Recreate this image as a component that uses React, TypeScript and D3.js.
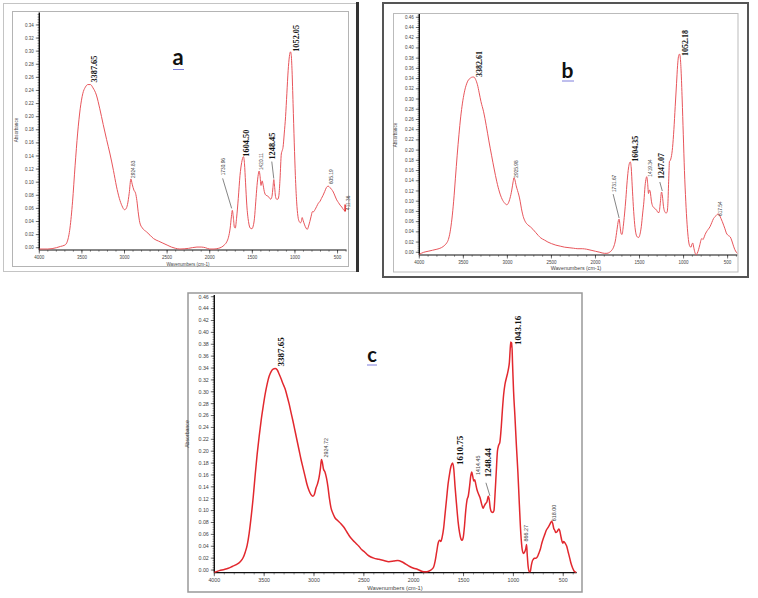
// @ts-nocheck
import React from 'react'
import * as d3 from 'd3'

// ---- spectrum a ----
const wavenumbersA = [4000, 3900, 3800, 3750, 3700, 3670, 3640, 3610, 3580, 3550, 3520, 3490, 3460, 3430, 3400, 3370, 3330, 3290, 3250, 3210, 3170, 3130, 3095, 3060, 3030, 3000, 2985, 2965, 2945, 2925, 2910, 2890, 2870, 2855, 2840, 2820, 2790, 2740, 2700, 2660, 2600, 2550, 2500, 2450, 2400, 2350, 2250, 2150, 2100, 2050, 2000, 1950, 1900, 1860, 1830, 1800, 1780, 1760, 1745, 1735, 1722, 1710, 1700, 1685, 1665, 1645, 1625, 1604, 1592, 1580, 1565, 1545, 1525, 1505, 1490, 1475, 1460, 1445, 1430, 1420, 1410, 1398, 1385, 1375, 1360, 1340, 1320, 1300, 1285, 1270, 1258, 1248, 1238, 1228, 1215, 1200, 1188, 1175, 1160, 1150, 1140, 1125, 1110, 1095, 1080, 1065, 1052, 1044, 1034, 1022, 1008, 995, 980, 965, 950, 935, 925, 915, 905, 890, 870, 855, 840, 825, 810, 795, 780, 765, 745, 725, 705, 690, 670, 650, 630, 610, 590, 570, 550, 530, 510, 490, 470, 450, 430, 411, 400]
const absorbanceA = [-0.002, -0.002, 0.0, 0.002, 0.004, 0.01, 0.03, 0.07, 0.125, 0.175, 0.212, 0.235, 0.245, 0.249, 0.249, 0.244, 0.233, 0.212, 0.188, 0.165, 0.143, 0.118, 0.094, 0.075, 0.064, 0.058, 0.059, 0.066, 0.083, 0.105, 0.097, 0.088, 0.083, 0.072, 0.055, 0.038, 0.03, 0.024, 0.019, 0.014, 0.01, 0.007, 0.004, 0.001, -0.001, -0.002, -0.001, 0.001, 0.001, 0.0, -0.002, -0.002, -0.001, 0.001, 0.004, 0.009, 0.016, 0.03, 0.048, 0.057, 0.045, 0.031, 0.03, 0.045, 0.075, 0.11, 0.13, 0.139, 0.128, 0.1, 0.065, 0.04, 0.03, 0.029, 0.033, 0.045, 0.07, 0.095, 0.112, 0.117, 0.11, 0.095, 0.102, 0.097, 0.086, 0.08, 0.079, 0.076, 0.074, 0.078, 0.092, 0.104, 0.092, 0.078, 0.074, 0.074, 0.08, 0.105, 0.143, 0.148, 0.153, 0.175, 0.2, 0.235, 0.27, 0.292, 0.299, 0.295, 0.27, 0.22, 0.16, 0.11, 0.07, 0.048, 0.04, 0.038, 0.04, 0.046, 0.042, 0.036, 0.03, 0.028, 0.033, 0.04, 0.048, 0.055, 0.055, 0.058, 0.063, 0.068, 0.071, 0.075, 0.08, 0.086, 0.092, 0.094, 0.092, 0.089, 0.085, 0.079, 0.073, 0.069, 0.065, 0.062, 0.058, 0.056, 0.06]
const peakLabelsA = ['3387.65', '2924.83', '1730.96', '1604.50', '1420.11', '1248.45', '1052.05', '605.19', '411.36']

// ---- spectrum b ----
const wavenumbersB = [4000, 3950, 3900, 3850, 3800, 3750, 3710, 3690, 3670, 3650, 3630, 3610, 3590, 3570, 3550, 3530, 3510, 3490, 3470, 3450, 3420, 3395, 3380, 3360, 3340, 3320, 3300, 3270, 3240, 3210, 3180, 3150, 3120, 3090, 3060, 3030, 3005, 2990, 2970, 2950, 2935, 2925, 2915, 2900, 2885, 2870, 2855, 2840, 2820, 2800, 2770, 2740, 2710, 2680, 2650, 2620, 2580, 2540, 2500, 2450, 2400, 2350, 2300, 2250, 2200, 2150, 2100, 2050, 2000, 1950, 1900, 1870, 1840, 1815, 1795, 1775, 1755, 1740, 1732, 1720, 1708, 1698, 1685, 1670, 1655, 1640, 1625, 1605, 1594, 1583, 1570, 1555, 1540, 1525, 1510, 1495, 1480, 1465, 1450, 1437, 1425, 1418, 1408, 1398, 1388, 1378, 1365, 1350, 1335, 1320, 1305, 1290, 1278, 1265, 1250, 1240, 1228, 1215, 1200, 1188, 1178, 1168, 1160, 1150, 1140, 1125, 1110, 1095, 1080, 1068, 1058, 1046, 1038, 1028, 1016, 1003, 990, 975, 960, 945, 930, 915, 905, 895, 885, 870, 858, 845, 830, 815, 800, 790, 780, 770, 755, 740, 720, 700, 680, 660, 640, 620, 605, 590, 575, 560, 545, 530, 515, 500, 485, 470, 455, 440, 420, 400, 390]
const absorbanceB = [-0.004, 0.0, 0.002, 0.004, 0.006, 0.009, 0.014, 0.018, 0.025, 0.04, 0.065, 0.1, 0.145, 0.19, 0.23, 0.265, 0.292, 0.312, 0.326, 0.335, 0.341, 0.343, 0.343, 0.338, 0.328, 0.312, 0.295, 0.275, 0.248, 0.218, 0.19, 0.163, 0.138, 0.118, 0.104, 0.096, 0.093, 0.096, 0.106, 0.122, 0.138, 0.146, 0.142, 0.13, 0.121, 0.112, 0.1, 0.085, 0.07, 0.061, 0.054, 0.05, 0.045, 0.039, 0.033, 0.028, 0.024, 0.02, 0.017, 0.014, 0.012, 0.01, 0.009, 0.008, 0.007, 0.007, 0.006, 0.004, 0.002, 0.0, -0.002, -0.002, 0.0, 0.004, 0.01, 0.022, 0.045, 0.062, 0.065, 0.05, 0.036, 0.035, 0.05, 0.075, 0.105, 0.14, 0.165, 0.177, 0.165, 0.13, 0.09, 0.055, 0.036, 0.03, 0.029, 0.035, 0.05, 0.075, 0.1, 0.13, 0.145, 0.148, 0.135, 0.115, 0.122, 0.118, 0.1, 0.09, 0.087, 0.085, 0.082, 0.078, 0.078, 0.095, 0.118, 0.11, 0.09, 0.08, 0.077, 0.078, 0.095, 0.145, 0.178, 0.18, 0.186, 0.205, 0.24, 0.285, 0.33, 0.365, 0.383, 0.388, 0.382, 0.355, 0.3, 0.23, 0.16, 0.1, 0.055, 0.025, 0.012, 0.01, 0.016, 0.018, 0.01, -0.001, -0.005, -0.002, 0.005, 0.015, 0.025, 0.027, 0.025, 0.028, 0.035, 0.04, 0.045, 0.05, 0.058, 0.066, 0.07, 0.074, 0.075, 0.072, 0.066, 0.06, 0.053, 0.046, 0.038, 0.034, 0.032, 0.03, 0.024, 0.016, 0.006, 0.0, -0.002]
const peakLabelsB = ['3382.61', '2925.98', '1731.67', '1604.35', '1419.34', '1247.07', '1052.18', '617.54']

// ---- spectrum c ----
const wavenumbersC = [4000, 3950, 3900, 3860, 3820, 3780, 3740, 3710, 3690, 3670, 3650, 3630, 3610, 3590, 3570, 3550, 3530, 3510, 3490, 3470, 3450, 3430, 3410, 3390, 3370, 3350, 3330, 3310, 3290, 3270, 3250, 3230, 3210, 3190, 3170, 3150, 3130, 3110, 3090, 3070, 3050, 3030, 3010, 2995, 2980, 2965, 2950, 2935, 2925, 2915, 2905, 2890, 2875, 2860, 2845, 2830, 2810, 2790, 2760, 2730, 2700, 2670, 2640, 2610, 2580, 2550, 2520, 2490, 2460, 2430, 2400, 2350, 2300, 2250, 2200, 2160, 2120, 2080, 2040, 2000, 1960, 1920, 1880, 1850, 1820, 1800, 1785, 1770, 1755, 1740, 1728, 1715, 1700, 1685, 1670, 1655, 1640, 1625, 1610, 1598, 1585, 1570, 1555, 1540, 1525, 1515, 1503, 1490, 1478, 1465, 1452, 1440, 1428, 1418, 1408, 1398, 1388, 1378, 1365, 1350, 1335, 1320, 1305, 1292, 1278, 1265, 1252, 1242, 1232, 1220, 1205, 1195, 1185, 1172, 1160, 1148, 1136, 1122, 1110, 1098, 1085, 1072, 1060, 1050, 1040, 1032, 1026, 1021, 1016, 1008, 998, 985, 970, 955, 940, 925, 912, 900, 888, 876, 868, 862, 852, 840, 830, 820, 810, 800, 790, 775, 760, 745, 730, 715, 700, 685, 670, 655, 640, 625, 615, 605, 595, 585, 575, 560, 545, 535, 525, 515, 505, 495, 480, 465, 450, 435, 420, 405, 390, 370]
const absorbanceC = [-0.004, -0.001, 0.001, 0.003, 0.006, 0.009, 0.014, 0.021, 0.03, 0.042, 0.062, 0.09, 0.122, 0.16, 0.195, 0.225, 0.252, 0.275, 0.296, 0.313, 0.326, 0.334, 0.338, 0.339, 0.337, 0.33, 0.322, 0.313, 0.305, 0.293, 0.28, 0.265, 0.25, 0.234, 0.218, 0.202, 0.186, 0.172, 0.158, 0.144, 0.134, 0.127, 0.124, 0.128, 0.138, 0.145, 0.155, 0.172, 0.186, 0.18, 0.17, 0.165, 0.155, 0.14, 0.12, 0.105, 0.095, 0.088, 0.083, 0.078, 0.072, 0.064, 0.056, 0.05, 0.045, 0.04, 0.034, 0.03, 0.025, 0.022, 0.02, 0.018, 0.016, 0.014, 0.015, 0.016, 0.014, 0.01, 0.006, 0.003, 0.001, -0.002, -0.003, -0.002, 0.001, 0.005, 0.015, 0.03, 0.045, 0.05, 0.048, 0.055, 0.07, 0.095, 0.12, 0.145, 0.162, 0.175, 0.18, 0.17, 0.14, 0.11, 0.082, 0.063, 0.052, 0.05, 0.055, 0.075, 0.1, 0.118, 0.125, 0.14, 0.158, 0.165, 0.158, 0.15, 0.152, 0.145, 0.135, 0.128, 0.122, 0.112, 0.104, 0.108, 0.112, 0.115, 0.124, 0.118, 0.104, 0.098, 0.097, 0.1, 0.125, 0.165, 0.2, 0.21, 0.215, 0.24, 0.27, 0.295, 0.312, 0.322, 0.33, 0.338, 0.35, 0.372, 0.384, 0.376, 0.383, 0.345, 0.3, 0.26, 0.21, 0.165, 0.11, 0.06, 0.035, 0.028, 0.03, 0.036, 0.043, 0.028, 0.006, -0.003, -0.002, 0.008, 0.015, 0.018, 0.02, 0.02, 0.022, 0.028, 0.035, 0.045, 0.053, 0.06, 0.067, 0.071, 0.075, 0.08, 0.082, 0.078, 0.07, 0.067, 0.063, 0.065, 0.069, 0.066, 0.058, 0.05, 0.045, 0.048, 0.045, 0.04, 0.03, 0.02, 0.01, 0.003, -0.002, -0.004]
const peakLabelsC = ['3387.65', '2924.72', '1610.75', '1414.45', '1248.44', '1043.16', '866.27', '618.00']

const panelLetters = ['a', 'b', 'c']
const xTickValues = [4000, 3500, 3000, 2500, 2000, 1500, 1000, 500]
const yTicksAB = [0.34, 0.46]

// layout / style for each panel
const panels = [
  {
    wn: wavenumbersA,
    ab: absorbanceA,
    labels: peakLabelsA,
    letter: panelLetters[0],
    plot: { left: 39.3, right: 346.5, top: 12.5, bottom: 250 },
    xDomain: [4000, 395],
    yDomain: [-0.0035, 0.359],
    yTickMax: yTicksAB[0],
    lineColor: '#e8555b',
    lineWidth: 1,
    tickFont: 4.5,
    boldFont: 8.3,
    smallFont: 4.8,
    xTitle: { x: 188, y: 265.5, size: 4.5 },
    yTitle: { x: 17.5, y: 130, size: 4.6 },
    letterPos: { x: 178, y: 65, size: 22, u0: 173, u1: 184, uy: 69.5 },
    offsets: [[6, -2], [4, -1], [-8, -35], [6, 0], [4, -1], [1.5, -20], [8, 0], [4.5, -2], [4.5, 1.5]],
    bold: [true, false, false, true, false, true, true, false, false],
    leaders: [
      { i: 2, from: [-10, -32], to: [-1, -2] },
      { i: 5, from: [-2, -18], to: [0, -1] },
    ],
    endMarker: 8,
  },
  {
    wn: wavenumbersB,
    ab: absorbanceB,
    labels: peakLabelsB,
    letter: panelLetters[1],
    plot: { left: 419.3, right: 737.3, top: 14, bottom: 255 },
    xDomain: [4000, 390],
    yDomain: [-0.0053, 0.4664],
    yTickMax: yTicksAB[1],
    lineColor: '#e8555b',
    lineWidth: 1,
    tickFont: 4.5,
    boldFont: 8,
    smallFont: 4.8,
    xTitle: { x: 576, y: 269.5, size: 5.3 },
    yTitle: { x: 396.5, y: 135, size: 4.6 },
    letterPos: { x: 567.5, y: 78, size: 21, u0: 562, u1: 574, uy: 81 },
    offsets: [[8, 0], [4.5, 0], [-3, -27], [7.5, 0], [5, 0], [1.7, -13], [9, 2], [5, 2]],
    bold: [true, false, false, true, false, true, true, false],
    leaders: [
      { i: 2, from: [-6, -25], to: [0, -1] },
      { i: 5, from: [-2, -10], to: [0.5, -1] },
    ],
  },
  {
    wn: wavenumbersC,
    ab: absorbanceC,
    labels: peakLabelsC,
    letter: panelLetters[2],
    plot: { left: 214.3, right: 576.7, top: 295, bottom: 572.7 },
    xDomain: [4000, 365],
    yDomain: [-0.0045, 0.4629],
    yTickMax: yTicksAB[1],
    lineColor: '#e2282e',
    lineWidth: 1.5,
    tickFont: 5.3,
    boldFont: 9,
    smallFont: 5.4,
    xTitle: { x: 395, y: 590, size: 5.8 },
    yTitle: { x: 188.5, y: 434, size: 5.2 },
    letterPos: { x: 372, y: 361.5, size: 20, u0: 367, u1: 377, uy: 365 },
    offsets: [[9, -2], [6, -2], [10, 2], [8, 3], [2, -19], [12, 3], [1.5, -3], [4.5, 0]],
    bold: [true, false, true, false, true, true, false, false],
    leaders: [{ i: 4, from: [-2.7, -13.6], to: [1.3, -0.5] }],
  },
]

const Spectrum = ({ p }) => {
  const { plot } = p
  const x = d3.scaleLinear().domain(p.xDomain).range([plot.left, plot.right])
  const y = d3.scaleLinear().domain(p.yDomain).range([plot.bottom, plot.top])
  const pts = p.wn.map((w, i) => [w, p.ab[i]])
  const line = d3
    .line()
    .x((d) => x(d[0]))
    .y((d) => y(d[1]))
    .curve(d3.curveMonotoneX)

  const yMajor = d3.range(0, p.yTickMax + 0.001, 0.02)
  const yMinor = d3.range(0, p.yDomain[1], 0.004)
  const xMinor = d3.range(4000, p.xDomain[1], -100)
  const fmt = d3.format('.2f')

  // anchor of a peak label: labelled wavenumber, local maximum of the curve
  const anchor = (label) => {
    const w = +label
    const near = pts.filter((d) => Math.abs(d[0] - w) <= 25)
    const top = d3.max(near, (d) => d[1])
    return [x(w), y(top)]
  }

  const tickColor = '#333'
  const textColor = '#444'

  return (
    <g>
      {/* minor ticks */}
      {yMinor.map((v, i) => (
        <line key={'ym' + i} x1={plot.left - 1.8} x2={plot.left} y1={y(v)} y2={y(v)} stroke={tickColor} strokeWidth={0.5} />
      ))}
      {xMinor.map((v, i) => (
        <line key={'xm' + i} x1={x(v)} x2={x(v)} y1={plot.bottom} y2={plot.bottom + 1.8} stroke={tickColor} strokeWidth={0.5} />
      ))}
      {yMajor.map((v, i) => (
        <g key={'yt' + i}>
          <line x1={plot.left - 3.5} x2={plot.left} y1={y(v)} y2={y(v)} stroke={tickColor} strokeWidth={0.7} />
          <text x={plot.left - 5.5} y={y(v)} dy="0.35em" textAnchor="end" fontSize={p.tickFont} fill={textColor} fontFamily="Liberation Sans, Arial, sans-serif">
            {fmt(v)}
          </text>
        </g>
      ))}
      {xTickValues.map((v, i) => (
        <g key={'xt' + i}>
          <line x1={x(v)} x2={x(v)} y1={plot.bottom} y2={plot.bottom + 3.5} stroke={tickColor} strokeWidth={0.7} />
          <text x={x(v)} y={plot.bottom + 5.5 + p.tickFont * 0.8} textAnchor="middle" fontSize={p.tickFont} fill={textColor} fontFamily="Liberation Sans, Arial, sans-serif">
            {v}
          </text>
        </g>
      ))}
      {/* axes */}
      <line x1={plot.left} x2={plot.left} y1={plot.top} y2={plot.bottom} stroke="#111" strokeWidth={1.4} />
      <line x1={plot.left} x2={plot.right} y1={plot.bottom} y2={plot.bottom} stroke="#111" strokeWidth={1.2} />

      <text x={p.xTitle.x} y={p.xTitle.y} textAnchor="middle" fontSize={p.xTitle.size} fill={textColor} fontFamily="Liberation Sans, Arial, sans-serif">
        Wavenumbers (cm-1)
      </text>
      <text transform={`translate(${p.yTitle.x},${p.yTitle.y}) rotate(-90)`} textAnchor="middle" fontSize={p.yTitle.size} fill={textColor} fontFamily="Liberation Sans, Arial, sans-serif">
        Absorbance
      </text>

      <path d={line(pts)} fill="none" stroke={p.lineColor} strokeWidth={p.lineWidth} strokeLinejoin="round" />

      {p.leaders.map((l, i) => {
        const [ax, ay] = anchor(p.labels[l.i])
        return <line key={'ld' + i} x1={ax + l.from[0]} y1={ay + l.from[1]} x2={ax + l.to[0]} y2={ay + l.to[1]} stroke="#333" strokeWidth={0.6} />
      })}
      {p.endMarker !== undefined &&
        (() => {
          const [ax, ay] = anchor(p.labels[p.endMarker])
          return <line x1={ax} x2={ax} y1={ay - 4} y2={ay + 3} stroke="#e02020" strokeWidth={1.4} />
        })()}

      {p.labels.map((t, i) => {
        const [ax, ay] = anchor(t)
        const [dx, dy] = p.offsets[i]
        const b = p.bold[i]
        return (
          <text
            key={'pk' + i}
            transform={`translate(${ax + dx},${ay + dy}) rotate(-90)`}
            fontSize={b ? p.boldFont : p.smallFont}
            fontWeight={b ? 'bold' : 'normal'}
            fontFamily={b ? 'Liberation Serif, Times New Roman, serif' : 'Liberation Sans, Arial, sans-serif'}
            fill={b ? '#111' : textColor}
          >
            {t}
          </text>
        )
      })}

      <text x={p.letterPos.x} y={p.letterPos.y} textAnchor="middle" fontSize={p.letterPos.size} fontWeight="bold" fontFamily="Lato, Open Sans, sans-serif" fill="#111">
        {p.letter}
      </text>
      <line x1={p.letterPos.u0} x2={p.letterPos.u1} y1={p.letterPos.uy} y2={p.letterPos.uy} stroke="#7070d8" strokeWidth={0.9} />
    </g>
  )
}

export default function App() {
  return (
    <svg width={758} height={598} style={{ position: 'absolute', left: 0, top: 0, background: '#fff' }}>
      <rect x={0} y={0} width={758} height={598} fill="#fff" />
      {/* frames of panel a */}
      <rect x={3.5} y={3.5} width={354} height={268} fill="none" stroke="#c4c4c4" strokeWidth={1} />
      <line x1={357.5} x2={357.5} y1={2} y2={272} stroke="#333" strokeWidth={3} />
      <rect x={12.5} y={11.5} width={336} height={255} fill="none" stroke="#b4b4b4" strokeWidth={1} />
      {/* frames of panel b */}
      <rect x={383} y={3} width={365} height={274} fill="none" stroke="#555" strokeWidth={2} />
      <rect x={393.5} y={13.5} width={344.5} height={258.5} fill="none" stroke="#bbb" strokeWidth={1} />
      {/* frame of panel c */}
      <rect x={188} y={293} width={394} height={299} fill="none" stroke="#999" strokeWidth={1.5} />
      {panels.map((p, i) => (
        <Spectrum key={i} p={p} />
      ))}
    </svg>
  )
}
